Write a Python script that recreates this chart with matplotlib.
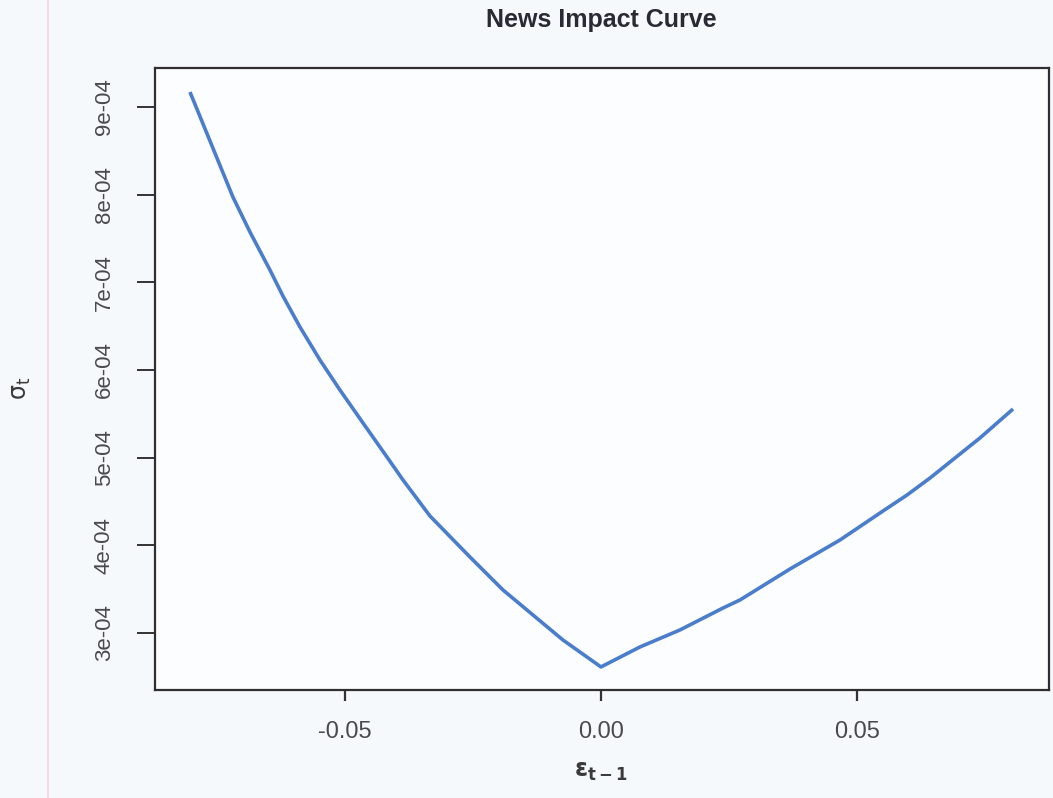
"""News impact curve of the fitted volatility model."""

import matplotlib

matplotlib.use("Agg")
import matplotlib.pyplot as plt
from matplotlib.lines import Line2D

# shock at t-1 and the implied conditional volatility
eps_prev = [-0.08027, -0.07188, -0.06855, -0.06465, -0.06211, -0.05879,
            -0.05488, -0.05098, -0.04648, -0.04180, -0.03867, -0.03340,
            -0.02559, -0.01914, -0.00742, 0.0,
            0.00762, 0.01543, 0.02383, 0.02715, 0.03691, 0.04668,
            0.05508, 0.05977, 0.06426, 0.07402, 0.08047]
sigma_t = [9.171e-4, 7.973e-4, 7.574e-4, 7.141e-4, 6.844e-4, 6.491e-4,
           6.114e-4, 5.772e-4, 5.396e-4, 5.008e-4, 4.746e-4, 4.335e-4,
           3.867e-4, 3.491e-4, 2.920e-4, 2.613e-4,
           2.841e-4, 3.035e-4, 3.285e-4, 3.377e-4, 3.730e-4, 4.061e-4,
           4.392e-4, 4.574e-4, 4.768e-4, 5.225e-4, 5.555e-4]

x_ticks = [-0.05, 0.0, 0.05]
x_tick_labels = ["-0.05", "0.00", "0.05"]
y_ticks = [3e-4, 4e-4, 5e-4, 6e-4, 7e-4, 8e-4, 9e-4]
y_tick_labels = ["3e-04", "4e-04", "5e-04", "6e-04", "7e-04", "8e-04", "9e-04"]

plt.rcParams["font.family"] = ["Liberation Sans", "DejaVu Sans"]
plt.rcParams["mathtext.fontset"] = "dejavusans"

W, H = 1053, 798
fig = plt.figure(figsize=(W / 100, H / 100), dpi=100, facecolor="#f6f9fc")
ax = fig.add_axes([155 / W, 1 - 690 / H, (1049 - 155) / W, (690 - 68) / H])
ax.set_facecolor("#fcfdff")

ax.plot(eps_prev, sigma_t, color="#4a7dcb", linewidth=2.6,
        solid_joinstyle="round", solid_capstyle="butt")

ax.set_xlim(-0.0871, 0.0875)
ax.set_ylim(2.35e-4, 9.445e-4)

ax.set_xticks(x_ticks)
ax.set_xticklabels(x_tick_labels, fontsize=17, color="#4a4a4a")
ax.set_yticks(y_ticks)
ax.set_yticklabels(y_tick_labels, fontsize=16, color="#4a4a4a", rotation=90,
                   va="center")
ax.tick_params(axis="x", length=8, width=1.6, color="#333333", pad=14)
ax.tick_params(axis="y", length=13, width=1.4, color="#333333", pad=16)

for side in ax.spines.values():
    side.set_color("#2f2f2f")
    side.set_linewidth(1.6)

fig.text(601 / W, 1 - 20 / H, "News Impact Curve", ha="center", va="center",
         fontsize=18, fontweight="bold", color="#2a2a35")
fig.text(601 / W, 1 - 772 / H, r"$\mathbf{ε_{t-1}}$", ha="center", va="center",
         fontsize=17, color="#3a3a3a")
fig.text(22 / W, 1 - 388 / H, r"$\mathrm{σ_t}$", ha="center", va="center",
         fontsize=17, color="#3a3a3a", rotation=90)

# thin pink rule down the left margin
fig.add_artist(Line2D([48 / W, 48 / W], [0, 1], transform=fig.transFigure,
                      color="#f9d8e2", linewidth=1.5))

fig.savefig("out.png", dpi=100, facecolor=fig.get_facecolor())
